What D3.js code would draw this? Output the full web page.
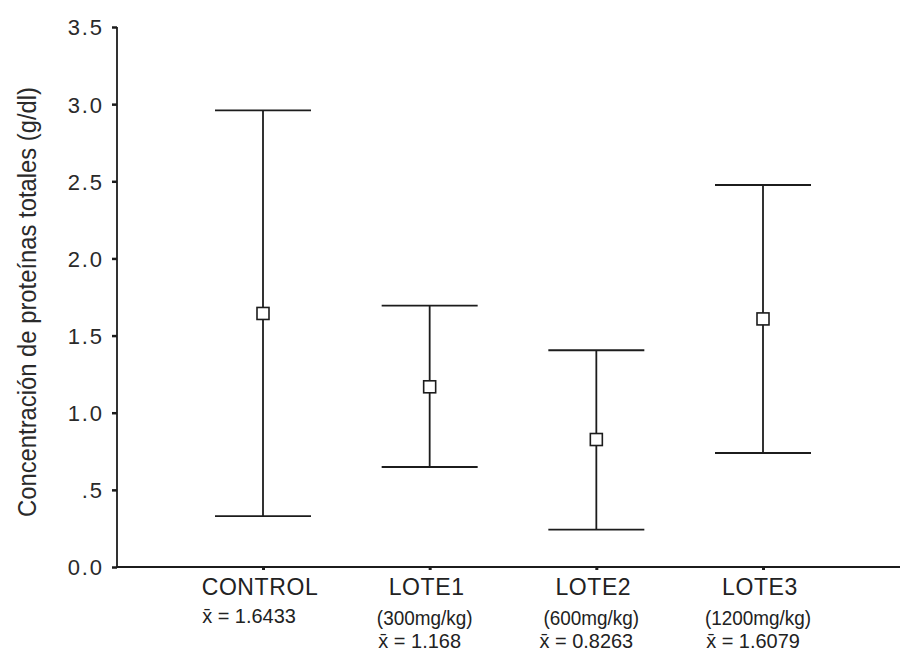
<!DOCTYPE html>
<html><head><meta charset="utf-8">
<script src="https://cdn.jsdelivr.net/npm/d3@7"></script>
<style>body{margin:0;background:#fff}</style></head>
<body><svg id="c" width="900" height="651"></svg>
<script>
const categories = ["CONTROL", "LOTE1", "LOTE2", "LOTE3"];
const doses = ["", "(300mg/kg)", "(600mg/kg)", "(1200mg/kg)"];
const means = [1.6433, 1.168, 0.8263, 1.6079];
const lower = [0.33, 0.648, 0.242, 0.739];
const upper = [2.96, 1.694, 1.405, 2.476];
const meanLabels = ["1.6433", "1.168", "0.8263", "1.6079"];
const yTicks = [0, 0.5, 1, 1.5, 2, 2.5, 3, 3.5];
const yTickLabels = ["0.0", ".5", "1.0", "1.5", "2.0", "2.5", "3.0", "3.5"];
const yTitle = "Concentración de proteínas totales (g/dl)";

const ink = "#1c1c1c";
const svg = d3.select("#c");
const x = d3.scalePoint().domain(categories).range([263, 763]);
const y = d3.scaleLinear().domain([0, 3.5]).range([567, 27]);
const axisX0 = 117;

// y axis
const gy = svg.append("g").attr("transform", `translate(${axisX0},0)`)
  .call(d3.axisLeft(y).tickValues(yTicks).tickFormat((d, i) => yTickLabels[i]).tickSize(5).tickPadding(10));
gy.select(".domain").attr("stroke", ink).attr("stroke-width", 1.8).attr("d", `M0,${y(3.5)}V${y(0)}`);
gy.selectAll(".tick line").attr("stroke", ink).attr("stroke-width", 2.5);
gy.selectAll(".tick text").attr("fill", "#2a2a2a").style("font-family", "Liberation Sans, Arial, sans-serif")
  .style("font-size", "22px").style("letter-spacing", "1.8px").attr("dx", "1.8").attr("dy", "0.36em");

// x axis
const gx = svg.append("g").attr("transform", `translate(0,${y(0)})`)
  .call(d3.axisBottom(x).tickSize(3).tickFormat(""));
gx.select(".domain").remove();
gx.selectAll(".tick line").attr("stroke", ink).attr("stroke-width", 3);
svg.append("line").attr("x1", axisX0 - 1).attr("x2", 900).attr("y1", y(0)).attr("y2", y(0))
  .attr("stroke", ink).attr("stroke-width", 1.8);

// error bars
const data = categories.map((c, i) => ({c, m: means[i], lo: lower[i], hi: upper[i]}));
const capHalf = 48;
const g = svg.append("g").attr("stroke", ink).attr("stroke-width", 1.8).attr("fill", "none");
g.selectAll(".v").data(data).join("line")
  .attr("x1", d => x(d.c)).attr("x2", d => x(d.c)).attr("y1", d => y(d.hi)).attr("y2", d => y(d.lo));
g.selectAll(".top").data(data).join("line")
  .attr("x1", d => x(d.c) - capHalf).attr("x2", d => x(d.c) + capHalf).attr("y1", d => y(d.hi)).attr("y2", d => y(d.hi));
g.selectAll(".bot").data(data).join("line")
  .attr("x1", d => x(d.c) - capHalf).attr("x2", d => x(d.c) + capHalf).attr("y1", d => y(d.lo)).attr("y2", d => y(d.lo));
g.selectAll("rect").data(data).join("rect")
  .attr("x", d => x(d.c) - 6).attr("y", d => y(d.m) - 6).attr("width", 12).attr("height", 12)
  .attr("fill", "#fff").attr("stroke-width", 1.6);

// category labels
const labFont = "Liberation Sans, Arial, sans-serif";
svg.selectAll(".cat").data(categories).join("text")
  .attr("x", d => x(d) - 3).attr("y", 595).attr("text-anchor", "middle")
  .style("font-family", labFont).style("font-size", "23px").attr("fill", "#222").style("letter-spacing", "0.6px")
  .text(d => d);
function narrow(sel, f) {
  sel.each(function () { const w = this.getComputedTextLength(); if (w > 0) d3.select(this).attr("textLength", w * f).attr("lengthAdjust", "spacingAndGlyphs"); });
}
svg.selectAll(".dose").data(categories).join("text")
  .attr("x", d => x(d) - 5).attr("y", 625).attr("text-anchor", "middle")
  .style("font-family", labFont).style("font-size", "21px").attr("fill", "#222")
  .text((d, i) => doses[i]).call(narrow, 0.9);
svg.selectAll(".mean").data(categories).join("text")
  .attr("x", (d, i) => x(d) - (i === 0 ? 14 : 10)).attr("y", (d, i) => doses[i] ? 648 : 623).attr("text-anchor", "middle")
  .style("font-family", labFont).style("font-size", "21px").attr("fill", "#222")
  .text((d, i) => "x\u0304 = " + meanLabels[i]).call(narrow, 0.95);

// y title
svg.append("text").attr("transform", "translate(36,302) rotate(-90)").attr("text-anchor", "middle")
  .style("font-family", "Liberation Sans Narrow, Arial Narrow, Liberation Sans, sans-serif")
  .style("font-size", "26px").attr("fill", "#2a2a2a")
  .attr("textLength", 430).attr("lengthAdjust", "spacingAndGlyphs")
  .text(yTitle);
</script></body></html>
